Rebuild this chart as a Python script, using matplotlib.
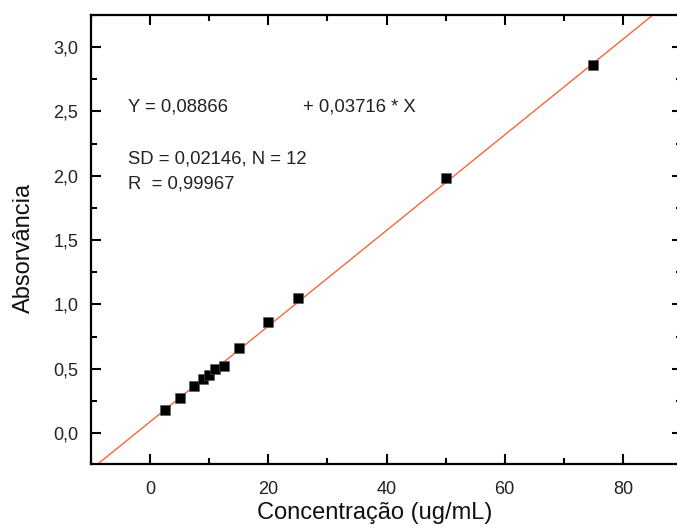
import numpy as np
import matplotlib.pyplot as plt
from matplotlib.ticker import MultipleLocator, FuncFormatter

plt.rcParams['font.family'] = ['Liberation Sans', 'DejaVu Sans']

# calibration points
conc = [2.5, 5, 7.5, 9, 10, 11, 12.5, 15, 20, 25, 50, 75]
absorb = [0.18, 0.27, 0.37, 0.42, 0.45, 0.50, 0.52, 0.66, 0.86, 1.05, 1.98, 2.86]

# linear fit as printed on the chart
intercept = 0.08866
slope = 0.03716
fit_x = np.array([-10, 90])
fit_y = intercept + slope * fit_x

fig = plt.figure(figsize=(6.77, 5.28), dpi=100)
ax = fig.add_axes([91/677, 64/528, 591/677, 449/528])

ax.plot(fit_x, fit_y, color='#f2683a', lw=1.0, zorder=2)
ax.plot(conc, absorb, 's', color='black', ms=6.8, mec='#555555', mew=0.4, zorder=3)

ax.set_xlim(-10, 90)
ax.set_ylim(-0.24, 3.25)

ax.xaxis.set_major_locator(MultipleLocator(20))
ax.xaxis.set_minor_locator(MultipleLocator(10))
ax.yaxis.set_major_locator(MultipleLocator(0.5))
ax.yaxis.set_minor_locator(MultipleLocator(0.25))
ax.yaxis.set_major_formatter(FuncFormatter(lambda v, p: f'{v:.1f}'.replace('.', ',')))

for s in ax.spines.values():
    s.set_linewidth(1.6)
ax.tick_params(which='both', direction='in', top=True, right=True, width=1.5,
               labelsize=13, labelcolor='#222222')
ax.tick_params(which='major', length=7.5)
ax.tick_params(which='minor', length=4.5)
ax.tick_params(axis='y', pad=9)
ax.tick_params(axis='x', pad=12)

fig.text(24/677, 1 - 248/528, 'Absorvância', rotation=90, ha='center', va='center',
         fontsize=17, color='#111111')
fig.text(375/677, 1 - 513/528, 'Concentração (ug/mL)', ha='center', va='center',
         fontsize=17, color='#111111')

tkw = dict(fontsize=13.3, color='#222222', va='center', ha='left')
fig.text(128/677, 1 - 107/528, 'Y = 0,08866', **tkw)
fig.text(303/677, 1 - 107/528, '+ 0,03716 * X', **tkw)
fig.text(128/677, 1 - 159/528, 'SD = 0,02146, N = 12', **tkw)
fig.text(128/677, 1 - 184/528, 'R  = 0,99967', **tkw)

fig.savefig('out.png', dpi=100)
